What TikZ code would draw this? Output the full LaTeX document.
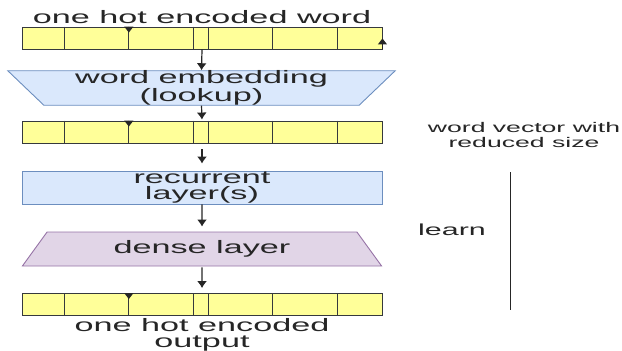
\documentclass[tikz,border=0pt]{standalone}
\usepackage{fontspec}
\setmainfont{Liberation Sans}[FakeStretch=1.9]
\usetikzlibrary{shapes.geometric,arrows.meta}
\definecolor{cellfill}{HTML}{FFFF99}
\definecolor{celldraw}{HTML}{36393D}
\definecolor{embfill}{HTML}{DAE8FC}
\definecolor{embdraw}{HTML}{6C8EBF}
\definecolor{densefill}{HTML}{E1D5E7}
\definecolor{densedraw}{HTML}{9673A6}
\begin{document}
\begin{tikzpicture}[x=1pt,y=-1pt,
  every node/.style={inner sep=0pt,text=black!85,align=center,font=\fontsize{18}{16.5}\selectfont},
  vec/.style={draw=celldraw,fill=cellfill,line width=0.9pt,minimum width=360pt,minimum height=22pt},
  layerbox/.style={draw=embdraw,fill=embfill,line width=0.9pt,minimum width=360pt,minimum height=33pt},
  trap/.style={trapezium,trapezium stretches=true,trapezium left angle=50,trapezium right angle=50,line width=0.9pt},
  arr/.style={-{Latex[length=7pt,width=10pt]},line width=1.2pt,black!85},
  tick/.style={-{Triangle[length=6pt,width=9pt]},line width=1pt,black!85}]
\useasboundingbox (0,0) rectangle (622,351);
\node (title) at (202,17) {one hot encoded word};
\node[vec] (r1) at (202,38) {};
\node[trap,draw=embdraw,fill=embfill,minimum width=389pt,minimum height=32pt,shape border rotate=180] (emb) at (201.5,88) {word embedding\\(lookup)};
\node[vec] (r2) at (202,132) {};
\node[layerbox] (rec) at (202,187.5) {recurrent\\layer(s)};
\node[trap,draw=densedraw,fill=densefill,minimum width=360pt,minimum height=34pt] (dense) at (202,249) {dense layer};
\node[vec] (r3) at (202,304.5) {};
\node (out) at (202,335) {one hot encoded\\output};
\node[font=\fontsize{14}{14.5}\selectfont] (wv) at (524,135) {word vector with\\reduced size};
\node[font=\fontsize{16}{16}\selectfont] (learn) at (452,230) {learn};
\coordinate (lt) at (510,172);
\coordinate (lb) at (510,310);
\foreach \r in {r1,r2,r3} {
  \foreach \d in {43,107.3,172.3,187,251.3,316.3}
    \draw[celldraw,line width=0.9pt] ([xshift=\d pt]\r.north west) -- ([xshift=\d pt]\r.south west);
  \draw[tick] ([xshift=107.3pt]\r.north west) -- ++(0,6);
}
\draw[tick] (r1.south east) -- ++(0,-11);
\draw[arr] (r1.south) -- (emb.north);
\draw[arr,shorten >=1pt] (emb.south) -- (r2.north);
\draw[arr,shorten <=6pt,shorten >=7pt] (r2.south) -- (rec.north);
\draw[arr,shorten >=5pt] (rec.south) -- (dense.north);
\draw[arr,shorten <=1pt,shorten >=5pt] (dense.south) -- (r3.north);
\draw[line width=1pt,black!85] (lt) -- (lb);
\end{tikzpicture}
\end{document}
